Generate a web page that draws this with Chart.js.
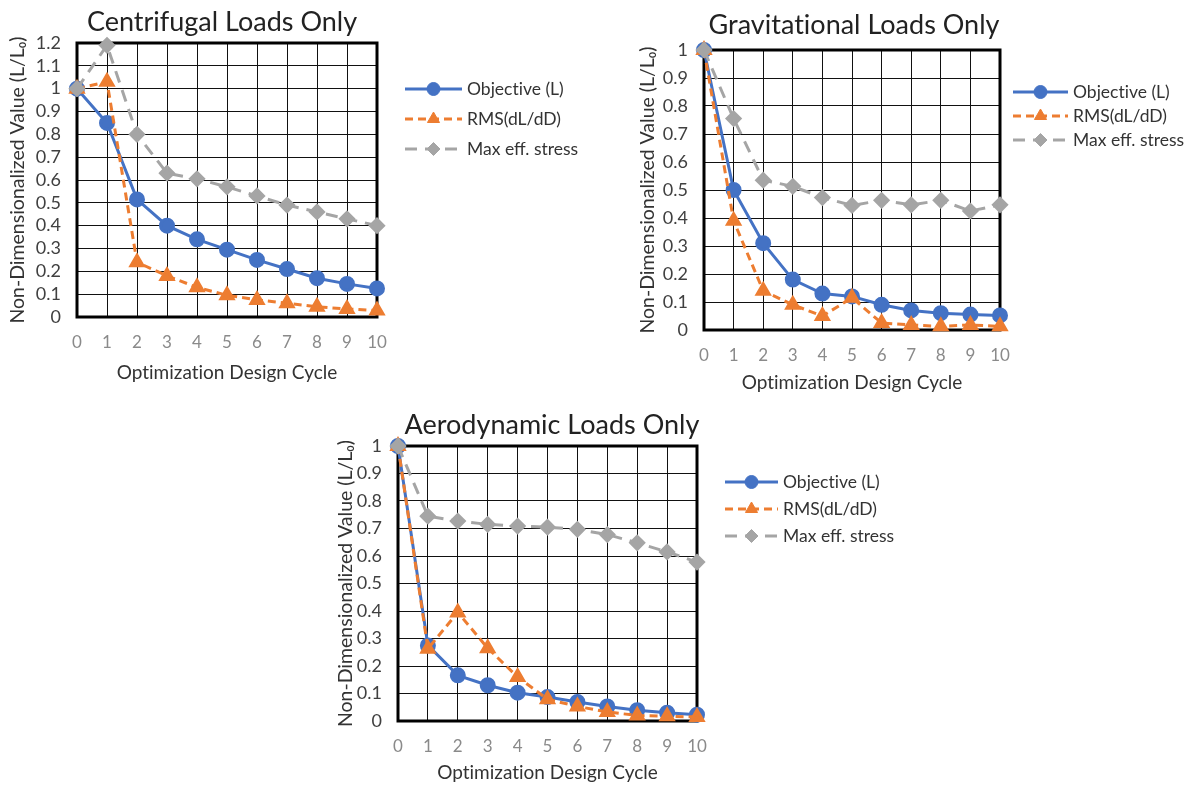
<!DOCTYPE html>
<html>
<head>
<meta charset="utf-8">
<title>Load cases</title>
<script src="https://cdn.jsdelivr.net/npm/chart.js@4.4.0/dist/chart.umd.min.js"></script>
<style>
  html, body { margin: 0; padding: 0; background: #fff; }
  body { width: 1191px; height: 786px; position: relative; overflow: hidden; }
  canvas { position: absolute; }
</style>
</head>
<body>
<canvas id="centrifugalChart" width="620" height="400" style="left:0;top:0"></canvas>
<canvas id="gravitationalChart" width="571" height="400" style="left:620px;top:0"></canvas>
<canvas id="aerodynamicChart" width="600" height="386" style="left:330px;top:400px"></canvas>
<script>
// Data
const cycles = ['0', '1', '2', '3', '4', '5', '6', '7', '8', '9', '10'];
const seriesNames = ['Objective (L)', 'RMS(dL/dD)', 'Max eff. stress'];

const centrifugalObjective = [1, 0.85, 0.515, 0.40, 0.34, 0.295, 0.25, 0.21, 0.17, 0.145, 0.125];
const centrifugalRms = [1, 1.03, 0.24, 0.18, 0.13, 0.095, 0.075, 0.06, 0.045, 0.035, 0.028];
const centrifugalStress = [1, 1.19, 0.80, 0.63, 0.605, 0.57, 0.53, 0.49, 0.46, 0.43, 0.40];

const gravitationalObjective = [1, 0.50, 0.31, 0.18, 0.13, 0.12, 0.09, 0.07, 0.06, 0.055, 0.052];
const gravitationalRms = [1, 0.39, 0.14, 0.09, 0.05, 0.115, 0.025, 0.018, 0.013, 0.018, 0.013];
const gravitationalStress = [1, 0.755, 0.535, 0.513, 0.473, 0.445, 0.463, 0.447, 0.463, 0.425, 0.447];

const aerodynamicObjective = [1, 0.275, 0.166, 0.13, 0.103, 0.087, 0.069, 0.053, 0.039, 0.03, 0.023];
const aerodynamicRms = [1, 0.263, 0.395, 0.265, 0.16, 0.079, 0.053, 0.033, 0.02, 0.017, 0.015];
const aerodynamicStress = [1, 0.745, 0.727, 0.715, 0.709, 0.705, 0.697, 0.678, 0.648, 0.615, 0.578];

const FONT = 'Lato, "Open Sans", "DejaVu Sans", sans-serif';
Chart.defaults.font.family = FONT;

// Lato joins "ti" into a ligature; a zero-width non-joiner keeps the letters apart
const noLig = (s) => s.replace(/ti/g, 't\u200Ci');

// Draws the plot frame, the title and the legend on the right
const decorPlugin = {
    id: 'decor',
    beforeDatasetsDraw(chart) {
        const a = chart.chartArea;
        const ctx = chart.ctx;
        ctx.save();
        ctx.strokeStyle = '#000';
        ctx.lineWidth = 3;
        ctx.strokeRect(a.left, a.top, a.right - a.left, a.bottom - a.top);
        ctx.restore();
    },
    afterDraw(chart, args, opts) {
        const ctx = chart.ctx;
        ctx.save();
        ctx.fillStyle = '#222';
        ctx.font = '27px ' + FONT;
        ctx.textAlign = 'center';
        ctx.textBaseline = 'middle';
        ctx.fillText(noLig(opts.title), opts.titleX, opts.titleY);

        chart.data.datasets.forEach((ds, i) => {
            const y = opts.legendY + i * opts.legendGap;
            const x1 = opts.legendX;
            const x2 = opts.legendX + opts.sampleWidth;
            ctx.strokeStyle = ds.borderColor;
            ctx.lineWidth = ds.borderWidth;
            ctx.setLineDash(ds.borderDash || []);
            ctx.beginPath();
            ctx.moveTo(x1, y);
            ctx.lineTo(x2, y);
            ctx.stroke();
            ctx.setLineDash([]);
            ctx.fillStyle = ds.backgroundColor;
            ctx.strokeStyle = ds.borderColor;
            ctx.lineWidth = 1;
            Chart.helpers.drawPoint(ctx, {
                pointStyle: ds.pointStyle,
                radius: ds.pointRadius,
                rotation: 0,
                borderWidth: 1
            }, (x1 + x2) / 2, y);
            ctx.fillStyle = '#333';
            ctx.font = '17.5px ' + FONT;
            ctx.textAlign = 'left';
            ctx.fillText(noLig(ds.label), x2 + 5, y);
        });
        ctx.restore();
    }
};

function makeChart(id, objective, rms, stress, yMax, box, decor) {
    const ctx = document.getElementById(id).getContext('2d');
    return new Chart(ctx, {
        type: 'line',
        data: {
            labels: cycles,
            datasets: [{
                label: seriesNames[0],
                data: objective,
                borderColor: '#4472C4',
                backgroundColor: '#4472C4',
                borderWidth: 3,
                pointStyle: 'circle',
                pointRadius: 6.5,
                order: 2,
                clip: false
            }, {
                label: seriesNames[1],
                data: rms,
                borderColor: '#ED7D31',
                backgroundColor: '#ED7D31',
                borderWidth: 3,
                borderDash: [8, 5],
                pointStyle: 'triangle',
                pointRadius: 7,
                order: 1,
                clip: false
            }, {
                label: seriesNames[2],
                data: stress,
                borderColor: '#A5A5A5',
                backgroundColor: '#A5A5A5',
                borderWidth: 3,
                borderDash: [12, 8],
                pointStyle: 'rectRot',
                pointRadius: 6.5,
                order: 0,
                clip: false
            }]
        },
        options: {
            responsive: false,
            animation: false,
            layout: {
                padding: { left: 0, top: box.top, right: box.right, bottom: 0 }
            },
            plugins: {
                legend: { display: false },
                tooltip: { enabled: false },
                decor: decor
            },
            scales: {
                x: {
                    offset: false,
                    afterFit: (scale) => { scale.height = box.xHeight; },
                    grid: { color: '#111', lineWidth: 1, drawTicks: false },
                    border: { display: false },
                    ticks: {
                        color: '#8a8a8a',
                        font: { size: 17 },
                        padding: 15,
                        autoSkip: false,
                        maxRotation: 0
                    },
                    title: {
                        display: true,
                        text: noLig('Optimization Design Cycle'),
                        color: '#333',
                        font: { size: 19 },
                        padding: { top: 0, bottom: box.xTitlePad }
                    }
                },
                y: {
                    min: 0,
                    max: yMax,
                    afterFit: (scale) => { scale.width = box.yWidth; },
                    grid: { color: '#111', lineWidth: 1, drawTicks: false },
                    border: { display: false },
                    ticks: {
                        stepSize: 0.1,
                        autoSkip: false,
                        color: '#404040',
                        font: { size: 18 },
                        padding: 16,
                        callback: (value) => String(Math.round(value * 10) / 10)
                    },
                    title: {
                        display: true,
                        text: 'Non-Dimensionalized Value (L/L\u2080)',
                        color: '#333',
                        font: { size: 19.5 },
                        padding: { top: box.yTitlePad, bottom: 0 }
                    }
                }
            }
        },
        plugins: [decorPlugin]
    });
}

makeChart('centrifugalChart', centrifugalObjective, centrifugalRms, centrifugalStress, 1.2,
    { top: 43, right: 243, xHeight: 83, yWidth: 77, xTitlePad: 15.5, yTitlePad: 6 },
    { title: 'Centrifugal Loads Only', titleX: 222, titleY: 22,
      legendX: 405, sampleWidth: 57, legendY: 89, legendGap: 30 });

makeChart('gravitationalChart', gravitationalObjective, gravitationalRms, gravitationalStress, 1,
    { top: 50, right: 191, xHeight: 70, yWidth: 84, xTitlePad: 5.5, yTitlePad: 16 },
    { title: 'Gravitational Loads Only', titleX: 234, titleY: 25,
      legendX: 393, sampleWidth: 55, legendY: 92, legendGap: 24 });

makeChart('aerodynamicChart', aerodynamicObjective, aerodynamicRms, aerodynamicStress, 1,
    { top: 46, right: 233, xHeight: 65, yWidth: 68, xTitlePad: 1.5, yTitlePad: 4 },
    { title: 'Aerodynamic Loads Only', titleX: 222, titleY: 25,
      legendX: 395, sampleWidth: 53, legendY: 82, legendGap: 27 });
</script>
</body>
</html>
